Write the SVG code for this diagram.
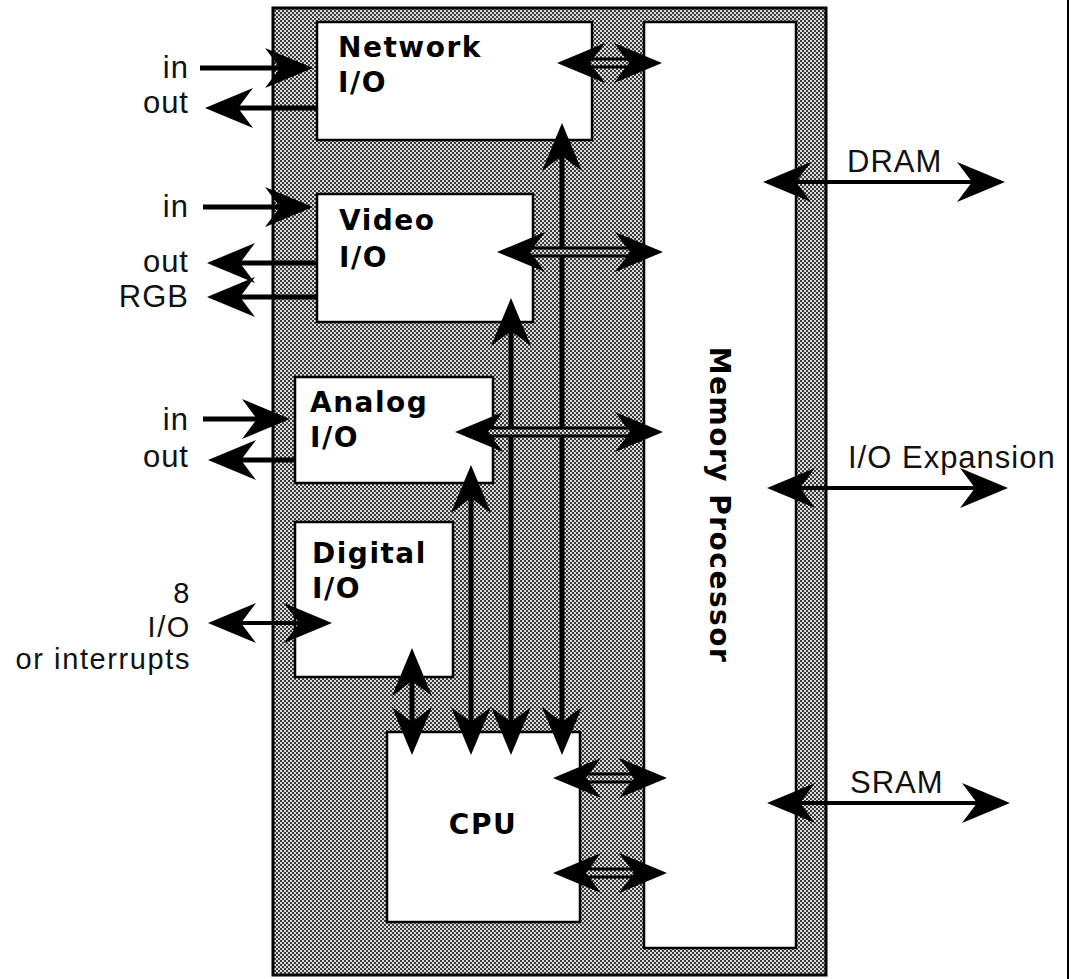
<svg xmlns="http://www.w3.org/2000/svg" xmlns:xlink="http://www.w3.org/1999/xlink" width="1072" height="979" viewBox="0 0 1072 979">
<defs>
<pattern id="dither" width="4" height="4" patternUnits="userSpaceOnUse">
<rect width="4" height="4" fill="#dadada"/>
<rect x="0" y="0" width="2" height="2" fill="#3c3c3c"/>
<rect x="2" y="2" width="2" height="2" fill="#3c3c3c"/>
</pattern>
<path id="head" d="M0,0 L-48,-20 L-33,0 L-48,20 Z" fill="#000"/>
<style>
.box{fill:#fff;stroke:#000;stroke-width:2.5}
.lbl{font-family:"Liberation Sans",Arial,sans-serif;font-size:31px;fill:#111;letter-spacing:1px}
.sm{font-size:29px;letter-spacing:1.6px}
.bold{font-family:"DejaVu Sans","Liberation Sans",sans-serif;font-weight:bold;font-size:28px;fill:#000;letter-spacing:1.5px}
.shaft{stroke:#000;stroke-width:5;fill:none}
.thin{stroke:#000;stroke-width:4;fill:none}
.band{stroke:#000;stroke-width:11;fill:none}
.hollow{stroke:url(#dither);stroke-width:5;fill:none}
</style>
</defs>
<rect x="0" y="0" width="1072" height="979" fill="#fff"/>
<line x1="1068" y1="0" x2="1068" y2="979" stroke="#000" stroke-width="2"/>
<g id="board">
<rect x="273" y="8" width="553" height="967" fill="url(#dither)" stroke="#000" stroke-width="3"/>
</g>
<g id="network-io">
<rect class="box" x="317" y="22" width="275" height="118"/>
<text class="bold" x="338" y="57">Network</text>
<text class="bold" x="338" y="92">I/O</text>
</g>
<g id="video-io">
<rect class="box" x="317" y="194" width="216" height="128"/>
<text class="bold" x="339" y="230">Video</text>
<text class="bold" x="339" y="267">I/O</text>
</g>
<g id="analog-io">
<rect class="box" x="295" y="377" width="198" height="106"/>
<text class="bold" x="310" y="412">Analog</text>
<text class="bold" x="310" y="447">I/O</text>
</g>
<g id="digital-io">
<rect class="box" x="295" y="522" width="158" height="155"/>
<text class="bold" x="312" y="563">Digital</text>
<text class="bold" x="312" y="598">I/O</text>
</g>
<g id="cpu">
<rect class="box" x="387" y="732" width="193" height="190"/>
<text class="bold" x="483" y="834" text-anchor="middle">CPU</text>
</g>
<g id="memory-processor">
<rect class="box" x="644" y="22" width="152" height="926"/>
<text class="bold" transform="translate(710,505) rotate(90)" text-anchor="middle">Memory Processor</text>
</g>
<g id="labels">
<text class="lbl" x="189" y="78" text-anchor="end">in</text>
<text class="lbl" x="189" y="113" text-anchor="end">out</text>
<text class="lbl" x="189" y="217" text-anchor="end">in</text>
<text class="lbl" x="189" y="272" text-anchor="end">out</text>
<text class="lbl" x="189" y="307" text-anchor="end">RGB</text>
<text class="lbl" x="189" y="430" text-anchor="end">in</text>
<text class="lbl" x="189" y="467" text-anchor="end">out</text>
<text class="lbl sm" x="191" y="603" text-anchor="end">8</text>
<text class="lbl sm" x="191" y="637" text-anchor="end">I/O</text>
<text class="lbl sm" x="191" y="669" text-anchor="end">or interrupts</text>
<text class="lbl" x="847" y="172">DRAM</text>
<text class="lbl" x="848" y="468">I/O Expansion</text>
<text class="lbl" x="850" y="793">SRAM</text>
</g>
<g id="connectors">
<line class="shaft" x1="200" y1="68" x2="285" y2="68"/>
<use href="#head" transform="translate(313,68)"/>
<line class="shaft" x1="317" y1="108" x2="235" y2="108"/>
<use href="#head" transform="translate(205,108) rotate(180)"/>
<line class="shaft" x1="203" y1="207" x2="285" y2="207"/>
<use href="#head" transform="translate(313,207)"/>
<line class="shaft" x1="317" y1="263" x2="237" y2="263"/>
<use href="#head" transform="translate(207,263) rotate(180)"/>
<line class="shaft" x1="317" y1="297" x2="237" y2="297"/>
<use href="#head" transform="translate(207,297) rotate(180)"/>
<line class="shaft" x1="203" y1="419" x2="262" y2="419"/>
<use href="#head" transform="translate(290,419)"/>
<line class="shaft" x1="295" y1="460" x2="238" y2="460"/>
<use href="#head" transform="translate(208,460) rotate(180)"/>
<line class="thin" x1="238" y1="623" x2="302" y2="623"/>
<use href="#head" transform="translate(208,623) rotate(180)"/>
<use href="#head" transform="translate(332,623)"/>
<line class="shaft" x1="562" y1="150" x2="562" y2="728"/>
<use href="#head" transform="translate(562,123) rotate(-90)"/>
<use href="#head" transform="translate(562,755) rotate(90)"/>
<line class="shaft" x1="511" y1="325" x2="511" y2="728"/>
<use href="#head" transform="translate(511,298) rotate(-90)"/>
<use href="#head" transform="translate(511,755) rotate(90)"/>
<line class="shaft" x1="471" y1="492" x2="471" y2="728"/>
<use href="#head" transform="translate(471,465) rotate(-90)"/>
<use href="#head" transform="translate(471,755) rotate(90)"/>
<line class="shaft" x1="412" y1="675" x2="412" y2="728"/>
<use href="#head" transform="translate(412,648) rotate(-90)"/>
<use href="#head" transform="translate(412,755) rotate(90)"/>
<line class="band" x1="587" y1="63" x2="632" y2="63"/>
<line class="hollow" x1="585" y1="63" x2="634" y2="63"/>
<use href="#head" transform="translate(557,63) rotate(180)"/>
<use href="#head" transform="translate(662,63)"/>
<line class="band" x1="527" y1="252" x2="633" y2="252"/>
<line class="hollow" x1="525" y1="252" x2="635" y2="252"/>
<use href="#head" transform="translate(497,252) rotate(180)"/>
<use href="#head" transform="translate(663,252)"/>
<line class="band" x1="485" y1="432" x2="633" y2="432"/>
<line class="hollow" x1="483" y1="432" x2="635" y2="432"/>
<use href="#head" transform="translate(455,432) rotate(180)"/>
<use href="#head" transform="translate(663,432)"/>
<line class="band" x1="583" y1="778" x2="637" y2="778"/>
<line class="hollow" x1="581" y1="778" x2="639" y2="778"/>
<use href="#head" transform="translate(553,778) rotate(180)"/>
<use href="#head" transform="translate(667,778)"/>
<line class="band" x1="583" y1="873" x2="637" y2="873"/>
<line class="hollow" x1="581" y1="873" x2="639" y2="873"/>
<use href="#head" transform="translate(553,873) rotate(180)"/>
<use href="#head" transform="translate(667,873)"/>
<line class="thin" x1="793" y1="182" x2="975" y2="182"/>
<use href="#head" transform="translate(763,182) rotate(180)"/>
<use href="#head" transform="translate(1005,182)"/>
<line class="thin" x1="797" y1="488" x2="978" y2="488"/>
<use href="#head" transform="translate(767,488) rotate(180)"/>
<use href="#head" transform="translate(1008,488)"/>
<line class="thin" x1="797" y1="803" x2="980" y2="803"/>
<use href="#head" transform="translate(767,803) rotate(180)"/>
<use href="#head" transform="translate(1010,803)"/>
</g>
</svg>
